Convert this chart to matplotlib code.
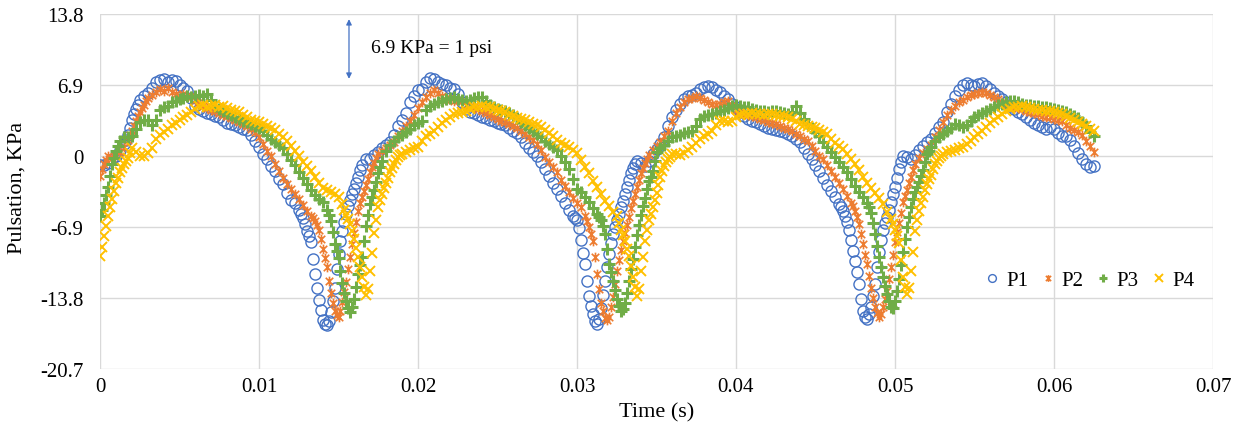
import numpy as np
import matplotlib
matplotlib.use("Agg")
import matplotlib.pyplot as plt
from matplotlib.path import Path

# ---------------- data (KPa), sampled every 0.00025 s ----------------
P1 = [-0.9, -0.9, -0.7, -0.3, 0.0, 0.6, 1.2, 2.0, 3.5, 4.6,
      5.4, 5.8, 6.1, 6.6, 7.2, 7.4, 7.5, 7.2, 7.4, 7.3,
      6.9, 6.6, 6.3, 5.6, 4.9, 4.6, 4.4, 4.2, 4.1, 3.9,
      3.8, 3.5, 3.2, 3.1, 3.0, 2.8, 2.6, 2.5, 2.0, 1.5,
      0.9, 0.2, -0.3, -1.0, -1.5, -2.2, -2.7, -3.6, -4.3, -4.6,
      -5.2, -6.0, -7.3, -8.4, -11.5, -14.0, -15.9, -16.4, -15.2, -12.8,
      -9.5, -7.3, -5.6, -4.3, -3.2, -2.0, -0.9, -0.3, -0.3, 0.1,
      0.4, 0.8, 1.1, 1.4, 2.0, 2.9, 3.5, 4.2, 5.2, 5.8,
      6.4, 6.5, 7.2, 7.6, 7.5, 7.2, 7.0, 6.9, 6.6, 6.5,
      6.0, 5.2, 4.6, 4.3, 4.2, 4.0, 3.8, 3.7, 3.5, 3.4,
      3.2, 3.1, 3.0, 2.7, 2.4, 2.2, 1.8, 1.3, 0.8, 0.4,
      0.0, -0.6, -1.3, -1.9, -2.6, -3.2, -3.9, -4.6, -5.2, -5.8,
      -6.2, -8.2, -10.5, -13.6, -15.4, -16.3, -14.8, -12.1, -9.5, -7.6,
      -6.2, -5.0, -3.7, -2.3, -1.2, -0.5, -0.7, -1.0, -0.5, 0.2,
      0.7, 1.2, 1.8, 2.9, 3.8, 4.5, 5.1, 5.5, 5.8, 5.9,
      6.1, 6.5, 6.7, 6.8, 6.7, 6.4, 6.2, 5.8, 5.5, 5.1,
      4.8, 4.3, 3.9, 3.6, 3.4, 3.3, 3.1, 2.9, 2.7, 2.6,
      2.5, 2.4, 2.3, 2.1, 1.9, 1.7, 1.4, 0.8, 0.2, -0.3,
      -0.9, -1.5, -2.1, -2.8, -3.4, -4.0, -4.7, -5.3, -6.4, -8.2,
      -10.2, -12.4, -15.1, -15.8, -14.7, -12.4, -9.3, -7.2, -5.9, -4.5,
      -3.0, -1.3, 0.0, -0.1, -0.3, 0.1, 0.6, 1.0, 1.4, 1.7,
      2.2, 2.8, 3.3, 4.3, 5.1, 5.8, 6.4, 6.9, 7.1, 6.9,
      6.8, 7.0, 7.1, 6.8, 6.5, 6.1, 5.8, 5.5, 5.2, 4.9,
      4.6, 4.3, 4.1, 3.8, 3.5, 3.2, 3.0, 2.8, 2.6, 2.8,
      2.6, 2.2, 1.9, 1.9, 1.6, 1.0, 0.3, -0.3, -0.8, -1.1,
      -1.0]

P2 = [-1.9, -0.8, 0.0, -0.2, 0.1, 0.4, 0.9, 1.6, 2.4, 3.4,
      4.3, 5.0, 5.6, 5.9, 6.2, 6.5, 6.3, 6.6, 6.2, 6.0,
      5.8, 6.0, 5.7, 5.8, 5.4, 5.2, 4.9, 4.7, 4.5, 4.4,
      4.2, 4.0, 3.9, 3.7, 3.5, 3.3, 3.1, 2.9, 2.6, 2.3,
      1.8, 1.2, 0.5, 0.0, -0.8, -1.5, -2.1, -2.7, -3.2, -3.7,
      -4.2, -4.8, -5.3, -5.8, -6.3, -7.2, -9.0, -10.8, -13.3, -15.1,
      -15.6, -14.2, -12.2, -9.8, -7.5, -5.3, -4.0, -2.8, -1.6, -0.7,
      0.2, 0.5, 0.8, 1.1, 1.4, 1.9, 2.4, 2.9, 3.4, 4.0,
      4.7, 5.2, 5.7, 6.1, 6.4, 6.1, 5.8, 5.4, 5.6, 5.3,
      5.4, 5.3, 5.0, 4.9, 4.8, 4.6, 4.4, 4.2, 4.0, 3.8,
      3.6, 3.4, 3.3, 3.1, 2.9, 2.7, 2.4, 2.1, 1.8, 1.6,
      1.2, 0.6, -0.1, -0.6, -1.1, -1.6, -2.3, -2.9, -3.5, -4.1,
      -4.6, -5.0, -5.8, -6.9, -8.3, -11.5, -14.3, -15.7, -15.6, -13.7,
      -11.2, -9.1, -7.5, -5.9, -4.4, -3.0, -1.7, -0.7, 0.1, 0.6,
      1.0, 1.4, 1.9, 2.4, 3.4, 4.2, 4.8, 5.2, 5.5, 5.6,
      5.8, 5.6, 5.4, 5.2, 5.1, 5.0, 5.1, 5.2, 5.3, 5.0,
      4.5, 4.3, 4.1, 4.0, 3.9, 3.8, 3.6, 3.5, 3.3, 3.2,
      3.1, 2.9, 2.7, 2.6, 2.4, 2.1, 1.9, 1.7, 1.5, 1.0,
      0.5, 0.0, -0.3, -0.9, -1.5, -2.0, -2.6, -3.2, -3.9, -4.6,
      -5.3, -6.6, -8.6, -10.5, -12.8, -14.7, -15.6, -14.7, -13.1, -10.8,
      -8.4, -6.5, -4.5, -3.3, -2.0, -0.8, -0.2, 0.3, 0.7, 1.1,
      1.8, 2.5, 3.3, 4.0, 4.5, 4.9, 5.2, 5.4, 5.7, 5.9,
      6.0, 6.1, 6.2, 6.1, 5.9, 5.7, 5.5, 5.2, 5.0, 4.9,
      4.8, 4.7, 4.6, 4.4, 4.3, 4.2, 4.1, 3.9, 3.8, 3.8,
      3.6, 3.5, 3.4, 3.0, 2.7, 2.5, 2.3, 2.0, 1.5, 1.0,
      0.4]

P3 = [-5.8, -4.6, -3.0, -0.8, 0.5, 1.5, 1.8, 1.8, 1.9, 2.6,
      3.3, 3.5, 3.5, 3.0, 3.5, 4.5, 4.8, 4.9, 5.2, 5.3,
      5.5, 5.6, 5.8, 5.7, 5.8, 5.9, 5.8, 6.0, 5.4, 4.9,
      4.6, 4.4, 4.2, 4.0, 3.8, 3.6, 3.4, 3.3, 3.1, 2.9,
      2.7, 2.4, 2.0, 1.7, 1.4, 1.1, 0.8, 0.2, -0.4, -0.9,
      -1.6, -2.1, -2.7, -3.3, -3.8, -4.2, -4.5, -5.2, -6.3, -8.6,
      -9.9, -12.3, -14.1, -15.2, -13.9, -11.5, -9.8, -6.8, -4.7, -3.3,
      -1.7, -0.5, 0.5, 1.1, 1.5, 1.8, 2.0, 2.3, 2.6, 3.0,
      3.2, 3.4, 4.5, 4.9, 5.1, 5.2, 5.3, 5.5, 5.6, 5.7,
      5.5, 5.4, 5.3, 5.4, 5.6, 5.7, 5.7, 5.3, 5.0, 4.8,
      4.6, 4.5, 4.4, 4.2, 4.0, 3.7, 3.3, 3.0, 2.7, 2.4,
      2.1, 1.8, 1.5, 1.2, 0.9, 0.6, 0.0, -0.6, -1.3, -2.2,
      -3.2, -3.5, -4.0, -4.5, -5.1, -5.6, -6.2, -7.6, -10.5, -12.1,
      -13.9, -15.1, -14.3, -12.1, -10.0, -7.7, -5.7, -4.1, -2.4, -1.5,
      0.4, 0.8, 1.1, 1.5, 1.8, 1.9, 2.0, 2.2, 2.3, 2.4,
      2.9, 3.6, 3.9, 4.0, 4.1, 4.2, 4.4, 4.5, 4.7, 4.9,
      5.0, 4.9, 4.8, 4.8, 4.6, 4.5, 4.4, 4.4, 4.3, 4.4,
      4.4, 4.3, 4.2, 4.1, 4.3, 4.9, 4.2, 3.6, 3.1, 2.7,
      2.3, 1.9, 1.4, 0.9, 0.4, -0.1, -0.6, -1.1, -1.6, -2.2,
      -2.9, -3.5, -4.0, -4.6, -5.5, -7.6, -9.8, -11.8, -13.4, -14.7,
      -14.1, -12.0, -9.3, -6.9, -5.0, -3.5, -2.5, -1.4, 0.2, 0.9,
      1.5, 1.8, 2.1, 2.4, 2.7, 3.1, 3.0, 2.8, 3.0, 3.4,
      3.8, 4.0, 4.2, 4.4, 4.6, 4.8, 5.0, 5.1, 5.2, 5.3,
      5.3, 5.2, 5.1, 5.0, 5.0, 4.9, 4.9, 4.8, 4.8, 4.7,
      4.6, 4.5, 4.4, 4.3, 4.1, 3.9, 3.7, 3.3, 2.9, 2.3,
      1.9]

P4 = [-9.7, -7.8, -5.8, -4.2, -2.6, -1.6, -0.8, -0.2, 0.8, 0.4,
      0.0, 0.0, 0.3, 0.8, 1.7, 2.0, 2.3, 2.6, 3.0, 3.2,
      3.5, 3.8, 4.0, 4.3, 4.6, 4.9, 5.0, 4.8, 4.9, 5.0,
      4.8, 4.9, 4.7, 4.5, 4.4, 4.3, 4.0, 3.8, 3.5, 3.4,
      3.3, 3.1, 2.9, 2.7, 2.5, 2.1, 1.8, 1.5, 1.0, 0.5,
      0.0, -0.6, -1.0, -1.5, -2.0, -2.6, -3.1, -3.3, -3.5, -3.7,
      -4.0, -4.7, -5.7, -6.6, -8.1, -9.8, -11.8, -13.5, -11.2, -7.5,
      -5.0, -3.7, -2.6, -1.6, -0.8, -0.1, 0.2, 0.4, 0.6, 0.8,
      0.9, 1.5, 1.9, 2.1, 2.4, 2.8, 3.2, 3.5, 3.8, 4.1,
      4.2, 4.3, 4.4, 4.6, 4.8, 4.8, 4.9, 4.8, 4.8, 4.6,
      4.5, 4.4, 4.3, 4.0, 3.9, 3.7, 3.6, 3.5, 3.3, 3.1,
      3.0, 2.8, 2.5, 2.2, 1.9, 1.6, 1.3, 1.1, 0.9, 0.6,
      0.3, -0.4, -1.1, -1.7, -2.4, -3.0, -3.7, -4.4, -4.9, -5.4,
      -5.8, -7.2, -8.3, -9.7, -11.8, -13.6, -11.2, -8.3, -6.2, -5.0,
      -3.6, -2.0, -1.0, -0.3, 0.2, 0.2, 0.1, 0.3, 0.6, 0.9,
      1.3, 1.7, 1.9, 2.1, 2.4, 3.0, 3.4, 3.4, 3.3, 3.4,
      3.8, 4.0, 4.1, 4.1, 4.2, 4.1, 4.1, 4.0, 4.1, 4.1,
      4.0, 3.9, 3.9, 3.8, 3.6, 3.4, 3.1, 3.0, 2.9, 2.8,
      2.7, 2.5, 2.3, 2.1, 1.7, 1.3, 1.0, 0.7, 0.2, -0.3,
      -0.8, -1.4, -2.0, -2.6, -3.1, -3.6, -4.1, -4.7, -5.4, -6.1,
      -7.2, -8.5, -11.8, -13.4, -11.2, -7.3, -5.3, -4.0, -2.7, -1.8,
      -0.8, -0.2, 0.2, 0.4, 0.5, 0.6, 0.8, 0.9, 1.2, 1.5,
      1.8, 2.1, 2.4, 2.8, 3.2, 3.5, 3.8, 4.1, 4.4, 4.6,
      4.8, 4.8, 4.9, 4.8, 4.7, 4.6, 4.5, 4.5, 4.4, 4.4,
      4.3, 4.2, 4.1, 3.9, 3.7, 3.5, 3.3, 3.1, 2.9, 2.6,
      2.4]

# Extra readings taken half a sample later in the steep stretches:
# (index of the sample just before, readings every 0.00025 s from there + 0.000125 s)
P1_between = [
    (6, [1.6, 2.7, 4.1, 5.0]),
    (50, [-5.6, -6.6, -7.8, -10.0, -12.8, -15.0, -16.3, -16.0, -14.1, -11.0,
          -8.3, -6.4, -4.9, -3.7, -2.6, -1.4]),
    (119, [-6.0, -7.0, -9.4, -12.1, -14.6, -16.0, -15.8, -13.5, -10.8, -8.5,
           -6.9, -5.6, -4.4, -3.0, -1.7, -0.8]),
    (186, [-5.0, -5.8, -7.2, -9.2, -11.3, -13.9, -15.6, -15.4, -13.6, -10.8,
           -8.2, -6.5, -5.2, -3.7, -2.1, -0.6]),
]
P2_between = [
    (0, [-1.3, -0.4]),
    (7, [2.0, 2.9, 3.9, 4.7, 5.3]),
    (53, [-6.0, -6.7, -8.1, -9.9, -12.1, -14.3, -15.5, -15.1, -13.2, -11.0,
          -8.6, -6.4, -4.6, -3.4, -2.2, -1.1, -0.2]),
    (122, [-6.3, -7.6, -9.8, -12.9, -15.1, -15.9, -14.7, -12.4, -10.1, -8.3,
           -6.7, -5.1, -3.7, -2.3, -1.2, -0.3]),
    (189, [-4.9, -5.9, -7.6, -9.6, -11.7, -13.8, -15.3, -15.4, -13.9, -12.0,
           -9.6, -7.4, -5.5, -3.9, -2.6, -1.4]),
]
P3_between = [
    (0, [-5.2, -3.8, -1.9, -0.2, 1.0]),
    (57, [-5.7, -7.4, -9.2, -11.2, -13.3, -14.8, -14.7, -12.7, -10.6, -8.3,
          -5.7, -4.0, -2.5, -1.1]),
    (125, [-5.9, -6.8, -9.0, -11.3, -13.0, -14.6, -14.9, -13.3, -11.0, -8.8,
           -6.7, -4.9, -3.2, -2.0, -0.5]),
    (193, [-5.0, -6.5, -8.7, -10.8, -12.6, -14.1, -14.8, -13.1, -10.6, -8.1,
           -5.9, -4.2, -3.0, -1.9, -0.6, 0.5]),
]
P4_between = [
    (0, [-8.8, -6.8, -5.0, -3.4, -2.1, -1.2, -0.5, 0.3]),
    (61, [-5.2, -6.1, -7.3, -8.9, -10.8, -12.7, -12.9, -9.4, -6.2, -4.3,
          -3.1, -2.1, -1.2, -0.4, 0.1]),
    (130, [-6.5, -7.7, -9.0, -10.7, -12.7, -12.9, -9.8, -7.2, -5.6, -4.3,
           -2.8, -1.5, -0.6, -0.1]),
    (199, [-6.6, -7.8, -10.1, -12.7, -12.8, -9.3, -6.2, -4.6, -3.3, -2.2,
           -1.3, -0.5, 0.0]),
]

series_names = ["P1", "P2", "P3", "P4"]
sample_step_s = 0.00025

x_ticks = [0, 0.01, 0.02, 0.03, 0.04, 0.05, 0.06, 0.07]
x_tick_labels = ["0", "0.01", "0.02", "0.03", "0.04", "0.05", "0.06", "0.07"]
y_ticks = [-20.7, -13.8, -6.9, 0, 6.9, 13.8]
y_tick_labels = ["-20.7", "-13.8", "-6.9", "0", "6.9", "13.8"]


def full_series(main, between):
    t = list(np.arange(len(main)) * sample_step_s)
    v = list(main)
    for start, vals in between:
        for k, val in enumerate(vals):
            t.append((start + k + 0.5) * sample_step_s)
            v.append(val)
    order = np.argsort(t)
    return np.asarray(t)[order], np.asarray(v)[order]


# ---------------- styling ----------------
plt.rcParams['font.family'] = ['Liberation Serif', 'DejaVu Serif']
BLUE, ORANGE, GREEN, GOLD = "#4472C4", "#ED7D31", "#70AD47", "#FFC000"

star = Path([(-1, -1), (1, 1), (-1, 1), (1, -1), (0, -1.3), (0, 1.3)],
            [Path.MOVETO, Path.LINETO] * 3)

W, H = 1237, 427
fig = plt.figure(figsize=(W / 100, H / 100), dpi=100)
ax = fig.add_axes([100 / W, 1 - 370 / H, 1113 / W, 355 / H])

styles = [
    dict(marker='o', ms=8, mfc='none', mec=BLUE, mew=1.0),
    dict(marker=star, ms=7, mfc='none', mec=ORANGE, mew=1.2),
    dict(marker='+', ms=8, mec=GREEN, mew=2.2),
    dict(marker='x', ms=7.5, mec=GOLD, mew=1.4),
]
handles = []
for main, between, name, st in zip([P1, P2, P3, P4],
                                   [P1_between, P2_between, P3_between, P4_between],
                                   series_names, styles):
    t, v = full_series(main, between)
    h, = ax.plot(t, v, linestyle='none', label=name, **st)
    handles.append(h)

ax.set_xlim(0, 0.07)
ax.set_ylim(-20.7, 13.8)
ax.set_xticks(x_ticks)
ax.set_xticklabels(x_tick_labels)
ax.set_yticks(y_ticks)
ax.set_yticklabels(y_tick_labels)
ax.tick_params(length=0, labelsize=15, colors='black')
ax.tick_params(axis='x', pad=6)
ax.tick_params(axis='y', pad=12)
ax.grid(True, color='#D9D9D9', lw=1.0)
ax.set_axisbelow(True)
for s in ax.spines.values():
    s.set_visible(False)

ax.set_xlabel("Time (s)", fontsize=16, labelpad=4)
ax.set_ylabel("Pulsation, KPa", fontsize=16)
ax.yaxis.set_label_coords((27 - 100) / 1113, 0.513)

# annotation arrow
ax.annotate("", xy=(0.01566, 13.3), xytext=(0.01566, 7.5),
            arrowprops=dict(arrowstyle='<|-|>', color=BLUE, lw=0.9,
                            mutation_scale=8, shrinkA=0, shrinkB=0))
ax.text(0.01705, 10.5, "6.9 KPa = 1 psi", fontsize=14, va='center', ha='left')

leg = ax.legend(handles=handles, ncol=4, frameon=False, loc='center right',
                bbox_to_anchor=(1.0, 0.25), fontsize=15, markerscale=0.7,
                handlelength=0.7, handletextpad=0.3, columnspacing=0.6)

fig.savefig("out.png", dpi=100)
